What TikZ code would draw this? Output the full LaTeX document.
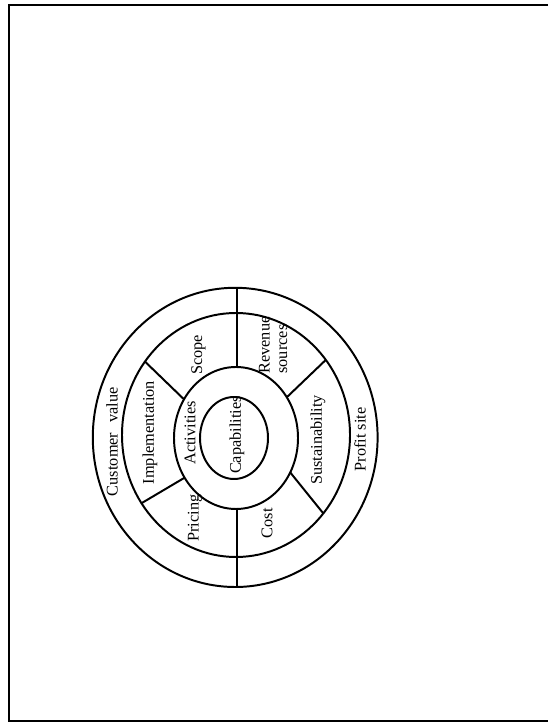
\documentclass[tikz,border=0pt]{standalone}
\usepackage{fontspec}
\setmainfont{Liberation Serif}
\begin{document}
\begin{tikzpicture}[
    ring/.style={line width=1.4pt, black},
    lbl/.style={rotate=90, inner sep=1pt, font=\fontsize{11.6}{12.4}\selectfont}
]

    \useasboundingbox (0,0) rectangle (13.7,18.075);

    % === PAGE FRAME ===
    \draw[line width=1.6pt, black] (13.7,17.95) -- (0.225,17.95) -- (0.225,0.05) -- (13.7,0.05);

    % === RINGS ===
    % Outer ring
    \draw[ring] (5.88,7.14) ellipse (3.56 and 3.74);
    % Middle ring
    \draw[ring] (5.9,7.2) ellipse (2.85 and 3.05);
    % Inner ring
    \draw[ring] (5.9,7.125) ellipse (1.55 and 1.775);
    % Core
    \draw[ring] (5.85,7.125) ellipse (0.85 and 1.025);

    % === DIVIDERS ===
    % Vertical split (top and bottom)
    \draw[ring] (5.925,10.88) -- (5.925,8.9);
    \draw[ring] (5.925,5.35) -- (5.925,3.40);

    % Diagonal splits of the middle ring
    \foreach \a/\b in {35/38, 147/143, 214/214, 331/320}
        \draw[ring] ([shift={(5.9,7.125)}]\a:1.55 and 1.775) -- ([shift={(5.9,7.2)}]\b:2.85 and 3.05);

    % === LABELS ===
    \node[lbl] (custval) at (2.8,7.03) {Customer\hspace{0.6em}value};
    \node[lbl] (implem) at (3.75,7.26) {Implementation};
    \node[lbl] (scope) at (4.96,9.2) {Scope};
    \node[lbl] (activ) at (4.75,7.25) {Activities};
    \node[lbl] (capab) at (5.925,7.2) {Capabilities};
    \node[lbl, align=left] (revenue) at (6.83,9.45) {Revenue\\sources};
    \node[lbl] (sustain) at (7.95,7.075) {Sustainability};
    \node[lbl] (profit) at (9.0,7.09) {Profit site};
    \node[lbl] (pricing) at (4.875,5.125) {Pricing};
    \node[lbl] (cost) at (6.675,4.99) {Cost};

\end{tikzpicture}
\end{document}
